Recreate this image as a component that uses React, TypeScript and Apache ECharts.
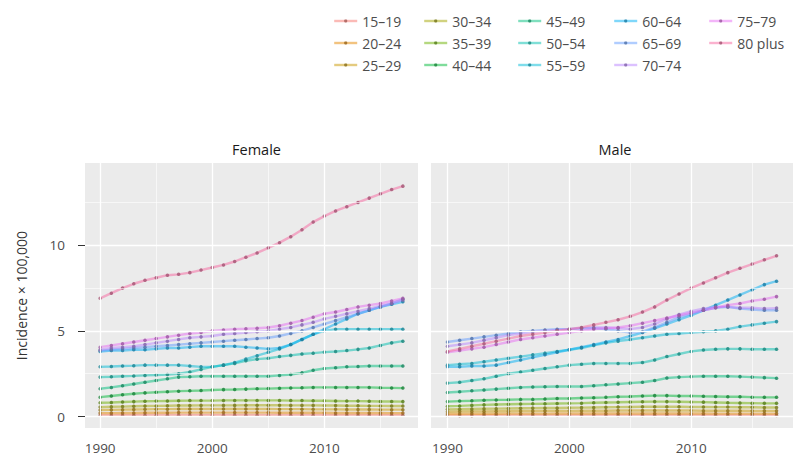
import React, { useEffect, useRef } from 'react';
import * as echarts from 'echarts';

const years = [1990, 1991, 1992, 1993, 1994, 1995, 1996, 1997, 1998, 1999, 2000, 2001, 2002, 2003, 2004, 2005, 2006, 2007, 2008, 2009, 2010, 2011, 2012, 2013, 2014, 2015, 2016, 2017];

const ageGroups = ['15–19', '20–24', '25–29', '30–34', '35–39', '40–44', '45–49', '50–54', '55–59', '60–64', '65–69', '70–74', '75–79', '80 plus'];

const panels = ['Female', 'Male'];

const majorX = [1990, 2000, 2010];
const minorX = [1995, 2005, 2015];
const majorY = [0, 5, 10];
const minorY = [2.5, 7.5, 12.5];

// Female incidence × 100,000
const female1519 = [0.07, 0.07, 0.07, 0.08, 0.08, 0.08, 0.08, 0.08, 0.08, 0.08, 0.08, 0.08, 0.08, 0.08, 0.08, 0.08, 0.08, 0.08, 0.08, 0.08, 0.08, 0.08, 0.08, 0.08, 0.08, 0.08, 0.08, 0.08];
const female2024 = [0.2, 0.2, 0.21, 0.21, 0.22, 0.22, 0.22, 0.23, 0.23, 0.23, 0.23, 0.23, 0.23, 0.23, 0.23, 0.23, 0.22, 0.22, 0.22, 0.22, 0.22, 0.21, 0.21, 0.21, 0.21, 0.21, 0.2, 0.2];
const female2529 = [0.38, 0.39, 0.4, 0.41, 0.42, 0.43, 0.43, 0.44, 0.44, 0.44, 0.44, 0.44, 0.44, 0.44, 0.44, 0.44, 0.43, 0.43, 0.43, 0.42, 0.42, 0.42, 0.41, 0.41, 0.41, 0.4, 0.4, 0.4];
const female3034 = [0.55, 0.57, 0.58, 0.6, 0.61, 0.62, 0.63, 0.64, 0.64, 0.65, 0.65, 0.65, 0.65, 0.66, 0.66, 0.66, 0.66, 0.65, 0.65, 0.65, 0.64, 0.64, 0.63, 0.63, 0.62, 0.62, 0.61, 0.61];
const female3539 = [0.8, 0.82, 0.85, 0.87, 0.89, 0.9, 0.91, 0.92, 0.93, 0.93, 0.93, 0.94, 0.94, 0.94, 0.94, 0.94, 0.94, 0.93, 0.93, 0.92, 0.92, 0.91, 0.9, 0.9, 0.89, 0.88, 0.88, 0.87];
const female4044 = [1.13, 1.2, 1.27, 1.33, 1.38, 1.42, 1.45, 1.48, 1.5, 1.52, 1.55, 1.57, 1.58, 1.6, 1.62, 1.63, 1.65, 1.67, 1.68, 1.7, 1.7, 1.7, 1.7, 1.7, 1.7, 1.68, 1.67, 1.66];
const female4549 = [1.62, 1.7, 1.8, 1.9, 2.0, 2.1, 2.2, 2.3, 2.32, 2.35, 2.35, 2.35, 2.35, 2.35, 2.35, 2.35, 2.4, 2.45, 2.55, 2.7, 2.8, 2.85, 2.9, 2.92, 2.95, 2.95, 2.95, 2.95];
const female5054 = [2.3, 2.32, 2.35, 2.37, 2.4, 2.42, 2.45, 2.5, 2.6, 2.75, 2.9, 3.0, 3.1, 3.25, 3.35, 3.4, 3.5, 3.57, 3.65, 3.7, 3.76, 3.8, 3.85, 3.92, 4.0, 4.15, 4.3, 4.4];
const female5559 = [2.9, 2.92, 2.95, 2.97, 3.0, 3.0, 3.0, 3.0, 2.95, 2.9, 2.9, 3.0, 3.15, 3.35, 3.55, 3.75, 3.95, 4.2, 4.5, 4.8, 5.0, 5.1, 5.1, 5.1, 5.1, 5.1, 5.1, 5.1];
const female6064 = [3.8, 3.85, 3.85, 3.9, 3.9, 3.95, 4.0, 4.0, 4.05, 4.1, 4.1, 4.1, 4.1, 4.05, 4.0, 3.95, 4.0, 4.2, 4.5, 4.8, 5.1, 5.4, 5.7, 6.0, 6.2, 6.4, 6.55, 6.7];
const female6569 = [3.85, 3.9, 3.95, 4.0, 4.05, 4.1, 4.15, 4.2, 4.25, 4.3, 4.35, 4.4, 4.45, 4.5, 4.55, 4.6, 4.7, 4.85, 5.0, 5.2, 5.4, 5.6, 5.8, 6.0, 6.2, 6.4, 6.6, 6.85];
const female7074 = [3.9, 4.0, 4.05, 4.1, 4.2, 4.3, 4.4, 4.5, 4.6, 4.65, 4.7, 4.8, 4.85, 4.9, 4.95, 5.0, 5.1, 5.2, 5.35, 5.5, 5.7, 5.85, 6.0, 6.15, 6.3, 6.45, 6.6, 6.8];
const female7579 = [4.05, 4.15, 4.25, 4.35, 4.45, 4.55, 4.65, 4.75, 4.85, 4.9, 5.0, 5.05, 5.1, 5.12, 5.15, 5.2, 5.3, 5.45, 5.6, 5.8, 6.0, 6.1, 6.25, 6.4, 6.5, 6.6, 6.75, 6.9];
const female80 = [6.9, 7.2, 7.5, 7.75, 7.95, 8.1, 8.25, 8.3, 8.4, 8.55, 8.7, 8.85, 9.05, 9.3, 9.55, 9.85, 10.15, 10.5, 10.9, 11.35, 11.7, 12.0, 12.25, 12.5, 12.75, 13.0, 13.25, 13.45];

// Male incidence × 100,000
const male1519 = [0.05, 0.05, 0.05, 0.06, 0.06, 0.06, 0.06, 0.06, 0.06, 0.06, 0.06, 0.06, 0.06, 0.06, 0.06, 0.06, 0.06, 0.06, 0.06, 0.06, 0.06, 0.06, 0.06, 0.06, 0.06, 0.06, 0.06, 0.06];
const male2024 = [0.15, 0.15, 0.16, 0.16, 0.16, 0.17, 0.17, 0.17, 0.17, 0.18, 0.18, 0.18, 0.18, 0.18, 0.18, 0.18, 0.18, 0.18, 0.18, 0.18, 0.18, 0.18, 0.17, 0.17, 0.17, 0.17, 0.17, 0.17];
const male2529 = [0.28, 0.29, 0.3, 0.3, 0.31, 0.31, 0.32, 0.32, 0.33, 0.33, 0.33, 0.34, 0.34, 0.34, 0.35, 0.35, 0.35, 0.35, 0.35, 0.35, 0.35, 0.34, 0.34, 0.34, 0.34, 0.33, 0.33, 0.33];
const male3034 = [0.42, 0.43, 0.44, 0.45, 0.46, 0.47, 0.48, 0.49, 0.5, 0.5, 0.51, 0.52, 0.53, 0.54, 0.55, 0.56, 0.57, 0.57, 0.57, 0.57, 0.56, 0.56, 0.55, 0.55, 0.54, 0.54, 0.53, 0.53];
const male3539 = [0.6, 0.62, 0.65, 0.68, 0.7, 0.72, 0.73, 0.74, 0.75, 0.76, 0.77, 0.78, 0.8, 0.82, 0.83, 0.85, 0.86, 0.87, 0.87, 0.86, 0.85, 0.84, 0.82, 0.8, 0.79, 0.78, 0.77, 0.77];
const male4044 = [0.87, 0.9, 0.92, 0.95, 0.97, 0.98, 1.0, 1.0, 1.02, 1.05, 1.05, 1.08, 1.1, 1.12, 1.15, 1.17, 1.2, 1.22, 1.22, 1.2, 1.2, 1.18, 1.17, 1.15, 1.15, 1.13, 1.12, 1.12];
const male4549 = [1.4, 1.45, 1.5, 1.55, 1.6, 1.65, 1.7, 1.72, 1.74, 1.75, 1.75, 1.75, 1.8, 1.85, 1.9, 1.95, 2.0, 2.1, 2.25, 2.3, 2.33, 2.35, 2.35, 2.35, 2.33, 2.3, 2.27, 2.24];
const male5054 = [1.95, 2.0, 2.1, 2.2, 2.35, 2.5, 2.6, 2.7, 2.8, 2.9, 3.0, 3.05, 3.1, 3.1, 3.1, 3.1, 3.15, 3.3, 3.5, 3.65, 3.8, 3.88, 3.93, 3.95, 3.95, 3.93, 3.93, 3.93];
const male5559 = [3.0, 3.05, 3.1, 3.2, 3.3, 3.4, 3.5, 3.6, 3.7, 3.8, 3.9, 4.0, 4.15, 4.3, 4.4, 4.5, 4.6, 4.7, 4.8, 4.85, 4.9, 4.95, 5.0, 5.1, 5.25, 5.35, 5.45, 5.54];
const male6064 = [2.9, 2.9, 2.95, 2.95, 3.0, 3.15, 3.3, 3.45, 3.6, 3.75, 3.9, 4.05, 4.2, 4.35, 4.5, 4.7, 4.9, 5.15, 5.4, 5.65, 5.9, 6.2, 6.5, 6.8, 7.1, 7.4, 7.7, 7.9];
const male6569 = [4.35, 4.45, 4.55, 4.65, 4.75, 4.85, 4.95, 5.0, 5.05, 5.1, 5.1, 5.15, 5.15, 5.1, 5.0, 4.9, 4.95, 5.2, 5.5, 5.8, 6.0, 6.2, 6.35, 6.4, 6.3, 6.25, 6.2, 6.2];
const male7074 = [4.1, 4.2, 4.3, 4.45, 4.6, 4.75, 4.85, 4.95, 5.0, 5.05, 5.1, 5.15, 5.2, 5.2, 5.15, 5.1, 5.2, 5.4, 5.7, 5.95, 6.15, 6.3, 6.4, 6.4, 6.35, 6.35, 6.3, 6.33];
const male7579 = [3.75, 3.85, 3.95, 4.05, 4.2, 4.35, 4.5, 4.6, 4.7, 4.8, 4.9, 5.0, 5.1, 5.15, 5.2, 5.3, 5.45, 5.6, 5.75, 5.9, 6.05, 6.2, 6.35, 6.5, 6.6, 6.75, 6.85, 7.0];
const male80 = [3.8, 3.95, 4.1, 4.25, 4.4, 4.55, 4.7, 4.8, 4.9, 5.0, 5.1, 5.2, 5.35, 5.5, 5.65, 5.85, 6.1, 6.4, 6.8, 7.15, 7.5, 7.8, 8.1, 8.4, 8.65, 8.9, 9.15, 9.38];

const femaleSeries = [female1519, female2024, female2529, female3034, female3539, female4044, female4549, female5054, female5559, female6064, female6569, female7074, female7579, female80];
const maleSeries = [male1519, male2024, male2529, male3034, male3539, male4044, male4549, male5054, male5559, male6064, male6569, male7074, male7579, male80];

const palette = ['#F8766D', '#E58700', '#C99800', '#A3A500', '#6BB100', '#00BA38', '#00BF7D', '#00C0AF', '#00BCD8', '#00B0F6', '#619CFF', '#B983FF', '#E76BF3', '#F7669F'];

const legendColumns = [
  ['15–19', '20–24', '25–29'],
  ['30–34', '35–39', '40–44'],
  ['45–49', '50–54', '55–59'],
  ['60–64', '65–69', '70–74'],
  ['75–79', '80 plus'],
];
const legendLefts = [328, 418, 512, 608, 703];

const FONT = '"Open Sans", "Noto Sans", sans-serif';

function mixDark(hex: string, t: number) {
  const n = parseInt(hex.slice(1), 16);
  const r = (n >> 16) & 255, g = (n >> 8) & 255, b = n & 255;
  const m = (c: number) => Math.round(c * (1 - t) + 70 * t);
  return `rgb(${m(r)},${m(g)},${m(b)})`;
}

export default function App() {
  const ref = useRef<HTMLDivElement>(null);
  useEffect(() => {
    if (!ref.current) return;
    const chart = echarts.init(ref.current, null, { renderer: 'svg' });

    const grids = [
      { left: 85, top: 163, width: 333, height: 265 },
      { left: 431, top: 163, width: 364, height: 265 },
    ];

    const xAxes = grids.map((_, i) => ({
      type: 'value',
      gridIndex: i,
      min: 1988.65,
      max: 2018.35,
      axisLine: { show: false },
      axisTick: { show: true, length: 6, customValues: majorX, lineStyle: { color: '#333333', width: 1 } },
      axisLabel: {
        customValues: majorX,
        formatter: (v: number) => String(v),
        color: '#4D4D4D',
        fontSize: 13.5,
        fontFamily: FONT,
        margin: 13,
      },
      splitLine: { show: false },
    }));

    const yAxes = grids.map((_, i) => ({
      type: 'value',
      gridIndex: i,
      min: -0.67,
      max: 14.8,
      axisLine: { show: false },
      axisTick: { show: i === 0, length: 7, customValues: majorY, lineStyle: { color: '#333333', width: 1 } },
      axisLabel: { show: i === 0, customValues: majorY, color: '#4D4D4D', fontSize: 13.5, fontFamily: FONT, margin: 20 },
      splitLine: { show: false },
      name: i === 0 ? 'Incidence × 100,000' : '',
      nameLocation: 'middle',
      nameGap: 57,
      nameTextStyle: { color: '#333333', fontSize: 14, fontFamily: FONT },
    }));

    const gridLineSeries = grids.map((_, i) => ({
      type: 'line',
      name: 'grid' + i,
      xAxisIndex: i,
      yAxisIndex: i,
      data: [],
      z: 1,
      silent: true,
      markLine: {
        silent: true,
        symbol: ['none', 'none'],
        label: { show: false },
        emphasis: { disabled: true },
        animation: false,
        data: [
          ...minorY.map((v) => ({ yAxis: v, lineStyle: { color: '#FFFFFF', width: 0.6, type: 'solid' } })),
          ...minorX.map((v) => ({ xAxis: v, lineStyle: { color: '#FFFFFF', width: 0.6, type: 'solid' } })),
          ...majorY.map((v) => ({ yAxis: v, lineStyle: { color: '#FFFFFF', width: 1.3, type: 'solid' } })),
          ...majorX.map((v) => ({ xAxis: v, lineStyle: { color: '#FFFFFF', width: 1.3, type: 'solid' } })),
        ],
      },
    }));

    const dataSeries: any[] = [];
    [femaleSeries, maleSeries].forEach((set, p) => {
      set.forEach((vals, k) => {
        dataSeries.push({
          type: 'line',
          name: ageGroups[k],
          xAxisIndex: p,
          yAxisIndex: p,
          z: 2,
          data: years.map((y, j) => [y, vals[j]]),
          symbol: 'circle',
          symbolSize: 3.5,
          showSymbol: true,
          color: palette[k],
          lineStyle: { color: palette[k], width: 2.4, opacity: 0.5 },
          itemStyle: { color: mixDark(palette[k], 0.45), opacity: 0.85 },
          emphasis: { disabled: true },
        });
      });
    });

    const legends = legendColumns.map((col, c) => ({
      orient: 'vertical',
      left: legendLefts[c],
      top: 9,
      data: col,
      itemWidth: 23,
      itemHeight: 4,
      itemGap: 8,
      selectedMode: false,
      lineStyle: { width: 2.4, opacity: 0.5 },
      textStyle: { color: '#4D4D4D', fontSize: 14, fontFamily: FONT, lineHeight: 13 },
    }));

    chart.setOption({
      animation: false,
      backgroundColor: '#FFFFFF',
      textStyle: { fontFamily: FONT },
      title: panels.map((t, i) => ({
        text: t,
        left: grids[i].left + grids[i].width / 2 - (i === 1 ? 3 : 0),
        top: 137,
        textAlign: 'center',
        textStyle: { color: '#1A1A1A', fontSize: 14.5, fontWeight: 'normal', fontFamily: FONT },
      })),
      legend: legends,
      grid: grids.map((g) => ({ ...g, show: true, backgroundColor: '#EBEBEB', borderWidth: 0 })),
      xAxis: xAxes,
      yAxis: yAxes,
      series: [...gridLineSeries, ...dataSeries],
    });

    return () => chart.dispose();
  }, []);

  return <div ref={ref} style={{ position: 'absolute', left: 0, top: 0, width: 793, height: 460 }} />;
}
